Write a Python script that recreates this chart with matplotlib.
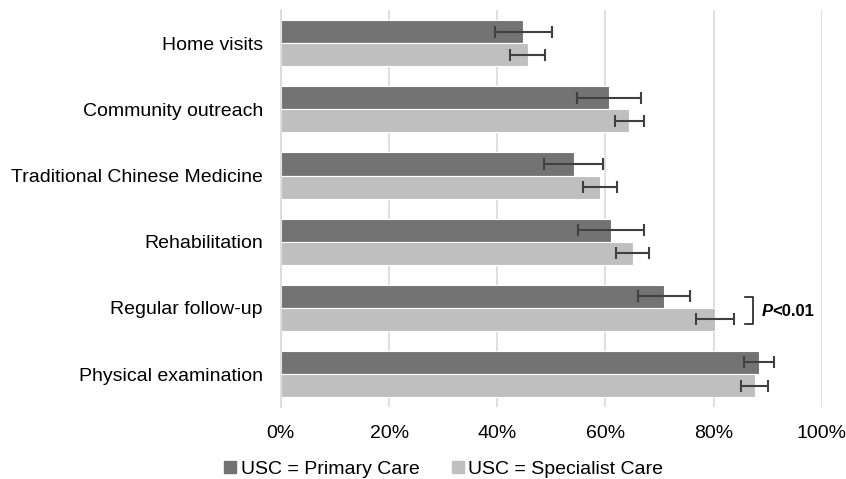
import numpy as np
import matplotlib
matplotlib.use('Agg')
import matplotlib.pyplot as plt
from matplotlib.ticker import PercentFormatter
from matplotlib.lines import Line2D

plt.rcParams['font.family'] = ['Liberation Sans', 'DejaVu Sans']

# ========== 数据 ==========
categories = ['Home visits', 'Community outreach', 'Traditional Chinese Medicine',
              'Rehabilitation', 'Regular follow-up', 'Physical examination']
primary = [44.8, 60.6, 54.1, 61.1, 70.8, 88.4]
primary_err = [5.3, 5.9, 5.4, 6.1, 4.8, 2.8]
specialist = [45.6, 64.4, 59.0, 65.0, 80.2, 87.6]
specialist_err = [3.2, 2.7, 3.2, 3.1, 3.5, 2.5]
series_names = ['USC = Primary Care', 'USC = Specialist Care']
p_label_row = 'Regular follow-up'

c_dark = '#737373'
c_light = '#bfbfbf'
c_err = '#404040'

fig = plt.figure(figsize=(8.46, 4.79), dpi=100)
ax = fig.add_axes([0.332, 0.150, 0.6395, 0.829])

y = np.arange(len(categories))
h = 0.35
ax.barh(y - h / 2, primary, height=h, color=c_dark, edgecolor='white', linewidth=0.8,
        xerr=primary_err, error_kw=dict(ecolor=c_err, elinewidth=1.5, capsize=4, capthick=1.5), zorder=2)
ax.barh(y + h / 2, specialist, height=h, color=c_light, edgecolor='white', linewidth=0.8,
        xerr=specialist_err, error_kw=dict(ecolor=c_err, elinewidth=1.5, capsize=4, capthick=1.5), zorder=2)

ax.set_yticks(y)
ax.set_yticklabels(categories, fontsize=14)
ax.set_ylim(len(categories) - 0.5, -0.5)
ax.set_xlim(0, 100)
ax.set_xticks(np.arange(0, 101, 20))
ax.xaxis.set_major_formatter(PercentFormatter(decimals=0))
ax.tick_params(axis='x', labelsize=14, length=0, pad=13)
ax.tick_params(axis='y', length=0, pad=13)
ax.grid(axis='x', color='#d9d9d9', linewidth=1.2, zorder=0)
ax.set_axisbelow(True)
for s in ['top', 'right', 'bottom']:
    ax.spines[s].set_visible(False)
ax.spines['left'].set_color('#d9d9d9')
ax.spines['left'].set_linewidth(1.2)

# P<0.01 标注
r = categories.index(p_label_row)
bx = 85.8
ax.plot([bx, bx + 1.4, bx + 1.4, bx], [r - 0.17, r - 0.17, r + 0.25, r + 0.25],
        color='#202020', linewidth=1.2, clip_on=False, zorder=3)
ax.text(88.9, r + 0.05, 'P', fontsize=12, fontweight='bold', fontstyle='italic',
        va='center', ha='left')
ax.text(90.8, r + 0.05, '<0.01', fontsize=12, fontweight='bold', va='center', ha='left')

handles = [Line2D([], [], marker='s', linestyle='none', markersize=9, color=c_dark),
           Line2D([], [], marker='s', linestyle='none', markersize=9, color=c_light)]
fig.legend(handles, series_names, loc='lower center', ncol=2, frameon=False, fontsize=14,
           bbox_to_anchor=(0.523, -0.035), handletextpad=0.1, columnspacing=1.5, handlelength=0.9)

plt.savefig('out.png', dpi=100)
plt.close()
